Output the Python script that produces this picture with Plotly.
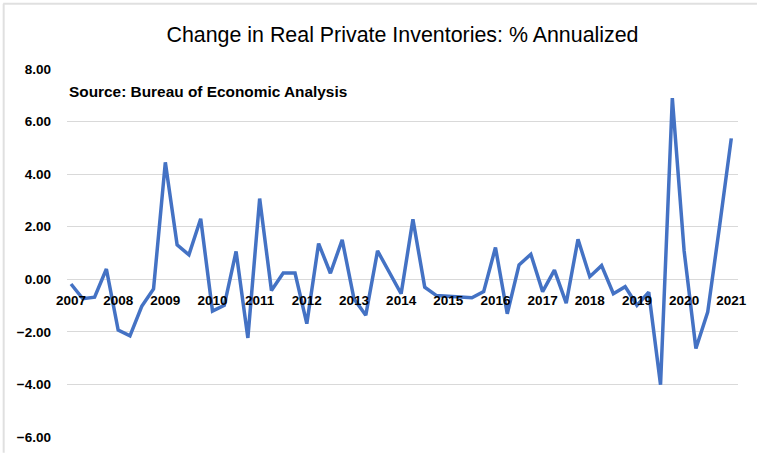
import plotly.graph_objects as go

years = list(range(2007, 2022))
values = [
    -0.18, -0.74, -0.68, 0.39,   # 2007
    -1.93, -2.15, -1.03, -0.37,  # 2008
    4.45, 1.31, 0.93, 2.30,      # 2009
    -1.21, -0.99, 1.06, -2.23,   # 2010
    3.07, -0.43, 0.24, 0.24,     # 2011
    -1.69, 1.36, 0.23, 1.50,     # 2012
    -0.74, -1.37, 1.08, 0.27,    # 2013
    -0.55, 2.28, -0.30, -0.62,   # 2014
    -0.64, -0.65, -0.70, -0.47,  # 2015
    1.21, -1.31, 0.55, 0.95,     # 2016
    -0.47, 0.35, -0.91, 1.52,    # 2017
    0.10, 0.52, -0.55, -0.28,    # 2018
    -0.99, -0.49, -4.01, 6.89,   # 2019
    1.08, -2.63, -1.25, 2.00,    # 2020
    5.36,                        # 2021
]
quarters = list(range(len(values)))
tick_idx = [4 * i for i in range(len(years))]
tick_text = [str(y) for y in years]
y_ticks = [-6, -4, -2, 0, 2, 4, 6, 8]

W, H = 759, 457
L, R, T, B = 67, 19, 69, 16
pw, ph = W - L - R, H - T - B

def px(xp):
    return (xp - L) / pw

def py(yp):
    return (H - B - yp) / ph

fig = go.Figure()
fig.add_trace(go.Scatter(
    x=quarters, y=values, mode="lines",
    line=dict(color="#4472C4", width=3.5),
    hoverinfo="skip", showlegend=False,
))

fig.update_layout(
    width=W, height=H,
    margin=dict(l=L, r=R, t=T, b=B),
    paper_bgcolor="white", plot_bgcolor="white",
    font=dict(family="Liberation Sans, Arial, sans-serif", color="#000000"),
    title=dict(
        text="Change in Real Private Inventories: % Annualized",
        x=0.5, xref="paper", xanchor="center",
        y=1 - 35 / H, yanchor="middle",
        font=dict(size=21.4, color="#000000"),
    ),
    xaxis=dict(
        range=[-0.34, 56.57],
        tickvals=tick_idx, ticktext=tick_text,
        showgrid=False, zeroline=False, showline=False,
        ticks="", anchor="free", position=6 / 14,
        ticklabelstandoff=11,
        tickfont=dict(size=13.5, color="#000000", weight="bold"),
    ),
    yaxis=dict(
        range=[-6, 8], tickvals=y_ticks, tickformat=".2f",
        showgrid=True, gridcolor="#d9d9d9", gridwidth=1,
        zeroline=False, showline=False, ticks="",
        ticklabelstandoff=15,
        tickfont=dict(size=13.5, color="#000000", weight="bold"),
    ),
    annotations=[dict(
        text="<b>Source: Bureau of Economic Analysis</b>",
        xref="paper", yref="paper", x=0, y=py(92),
        xanchor="left", yanchor="middle", showarrow=False,
        font=dict(size=15.4, color="#000000"),
    )],
    shapes=[
        dict(type="line", xref="paper", yref="paper",
             x0=px(3), x1=px(759), y0=py(3), y1=py(3),
             line=dict(color="#e0e0e0", width=2)),
        dict(type="line", xref="paper", yref="paper",
             x0=px(3.5), x1=px(3.5), y0=py(3), y1=py(457),
             line=dict(color="#e0e0e0", width=2)),
    ],
)

fig.write_html(
    "out.html",
    config={"displayModeBar": False},
    post_script="document.body.style.margin='0';document.body.style.padding='0';",
)
